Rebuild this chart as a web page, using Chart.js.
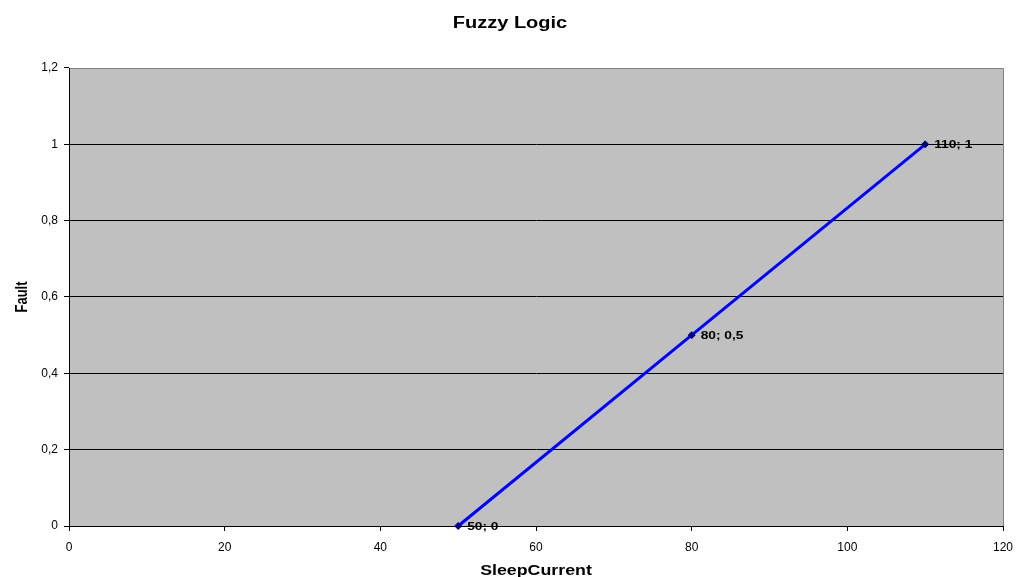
<!DOCTYPE html>
<html><head><meta charset="utf-8">
<script src="https://cdn.jsdelivr.net/npm/chart.js@4/dist/chart.umd.min.js"></script>
<style>html,body{margin:0;padding:0;background:#fff}canvas{display:block}</style>
</head><body>
<canvas id="c" width="1016" height="577"></canvas>
<script>
const chartTitle = 'Fuzzy Logic';
const xAxisTitle = 'SleepCurrent';
const yAxisTitle = 'Fault';
const xValues = [50, 80, 110];
const yValues = [0, 0.5, 1];
const pointLabels = ['50; 0', '80; 0,5', '110; 1'];
const xTicks = [0, 20, 40, 60, 80, 100, 120];
const yTicks = ['0', '0,2', '0,4', '0,6', '0,8', '1', '1,2'];

const FONT = '"Liberation Sans", Arial, sans-serif';

// Draw text horizontally stretched on screen (as in the reference)
function wideText(ctx, text, x, y, rot, sx, align) {
  ctx.save();
  ctx.translate(x, y);
  ctx.scale(sx, 1);
  if (rot) ctx.rotate(rot);
  ctx.textAlign = align;
  ctx.fillText(text, 0, 0);
  ctx.restore();
}

const bgPlugin = {
  id: 'bg',
  beforeDraw(chart) {
    const {ctx, chartArea: a} = chart;
    ctx.save();
    ctx.fillStyle = '#c0c0c0';
    ctx.fillRect(a.left, a.top, a.right - a.left, a.bottom - a.top);
    ctx.strokeStyle = '#808080';
    ctx.lineWidth = 1;
    ctx.beginPath();
    ctx.moveTo(a.left, a.top + 0.5);
    ctx.lineTo(a.right + 0.5, a.top + 0.5);
    ctx.lineTo(a.right + 0.5, a.bottom);
    ctx.stroke();
    ctx.restore();
  }
};

const textPlugin = {
  id: 'texts',
  afterDraw(chart) {
    const {ctx, chartArea: a} = chart;
    ctx.save();
    ctx.fillStyle = '#000';
    ctx.textBaseline = 'alphabetic';
    ctx.font = 'bold 16px ' + FONT;
    wideText(ctx, chartTitle, 510, 28, 0, 1.25, 'center');
    ctx.font = 'bold 14px ' + FONT;
    wideText(ctx, xAxisTitle, (a.left + a.right) / 2, 575, 0, 1.27, 'center');
    ctx.font = 'bold 13px ' + FONT;
    wideText(ctx, yAxisTitle, 26.5, (a.top + a.bottom) / 2, -Math.PI / 2, 1.2, 'center');
    ctx.restore();
  }
};

const labelPlugin = {
  id: 'ptlabels',
  afterDatasetsDraw(chart) {
    const {ctx} = chart;
    const xs = chart.scales.x, ys = chart.scales.y;
    ctx.save();
    ctx.font = 'bold 11px ' + FONT;
    ctx.fillStyle = '#000';
    ctx.textBaseline = 'middle';
    for (let i = 0; i < xValues.length; i++) {
      wideText(ctx, pointLabels[i], xs.getPixelForValue(xValues[i]) + 9, ys.getPixelForValue(yValues[i]) + 1, 0, 1.25, 'left');
    }
    ctx.restore();
  }
};

new Chart(document.getElementById('c'), {
  type: 'scatter',
  data: {
    datasets: [{
      data: xValues.map((x, i) => ({x, y: yValues[i]})),
      showLine: true,
      borderColor: '#0000ff',
      borderWidth: 3,
      pointStyle: 'rectRot',
      pointRadius: 3.5,
      pointBackgroundColor: '#000080',
      pointBorderColor: '#000080',
      pointBorderWidth: 1,
      clip: false
    }]
  },
  options: {
    responsive: false,
    animation: false,
    layout: {padding: {left: 0, right: 13, top: 68, bottom: 0}},
    plugins: {
      legend: {display: false},
      tooltip: {enabled: false},
      title: {display: false}
    },
    scales: {
      x: {
        type: 'linear',
        min: 0, max: 120,
        afterBuildTicks(s) { s.ticks = xTicks.map(v => ({value: v})); },
        afterFit(s) { s.height = 51; s.paddingLeft = 0; s.paddingRight = 0; },
        ticks: {
          color: '#000',
          font: {family: FONT, size: 12},
          padding: 9,
          maxRotation: 0,
          callback: (v) => String(v)
        },
        grid: {drawOnChartArea: false, drawTicks: true, tickLength: 5, color: '#000'},
        border: {display: true, color: '#000', width: 1}
      },
      y: {
        min: 0, max: 1.2,
        afterBuildTicks(s) { s.ticks = yTicks.map((t, i) => ({value: i * 0.2})); },
        afterFit(s) { s.width = 69; s.paddingTop = 0; s.paddingBottom = 0; },
        ticks: {
          color: '#000',
          font: {family: FONT, size: 12},
          padding: 6,
          callback: (v, i) => yTicks[i]
        },
        grid: {
          color: (c) => (c.index === yTicks.length - 1 ? 'rgba(0,0,0,0)' : '#000'),
          lineWidth: 1, drawTicks: true, tickLength: 5, tickColor: '#000'
        },
        border: {display: true, color: '#000', width: 1}
      }
    }
  },
  plugins: [bgPlugin, labelPlugin, textPlugin]
});
</script>
</body></html>
